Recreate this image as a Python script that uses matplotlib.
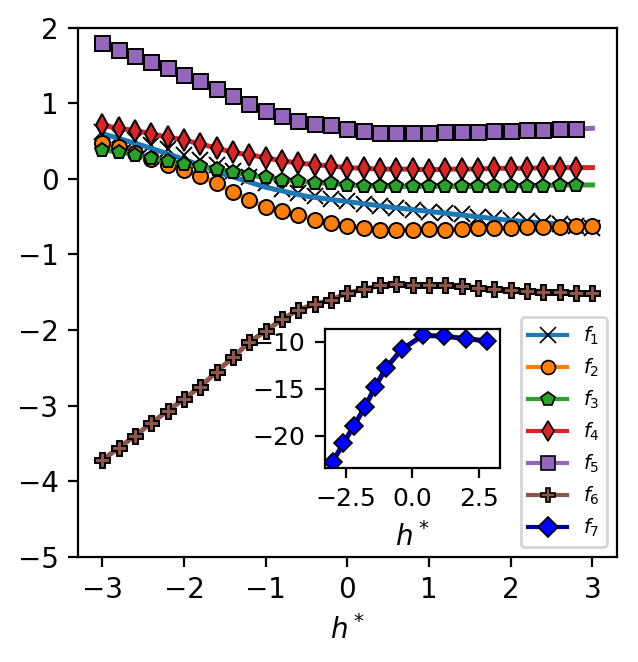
import numpy as np
import matplotlib
matplotlib.use('Agg')
import matplotlib.pyplot as plt
from matplotlib.lines import Line2D

plt.rcParams['font.size'] = 10

# sample points h* = -3 ... 3 (step 0.2)
h = np.round(np.arange(-3.0, 3.01, 0.2), 1)

f1 = [0.62, 0.57, 0.52, 0.45, 0.39, 0.32, 0.25, 0.18, 0.10, 0.02, -0.06,
      -0.13, -0.19, -0.23, -0.26, -0.29, -0.33, -0.36, -0.38, -0.41, -0.44,
      -0.45, -0.47, -0.50, -0.52, -0.54, -0.56, -0.58, -0.60, -0.62, -0.65]
f2 = [0.47, 0.42, 0.34, 0.26, 0.19, 0.12, 0.04, -0.06, -0.17, -0.28, -0.37,
      -0.43, -0.48, -0.54, -0.58, -0.62, -0.65, -0.67, -0.67, -0.67, -0.66,
      -0.67, -0.66, -0.65, -0.65, -0.65, -0.64, -0.64, -0.63, -0.62, -0.62]
f3 = [0.38, 0.36, 0.32, 0.28, 0.24, 0.20, 0.17, 0.13, 0.09, 0.05, 0.02,
      -0.01, -0.03, -0.05, -0.06, -0.08, -0.09, -0.10, -0.10, -0.10, -0.10,
      -0.10, -0.10, -0.10, -0.10, -0.09, -0.09, -0.09, -0.08, -0.08, -0.08]
f4 = [0.71, 0.67, 0.64, 0.60, 0.55, 0.52, 0.46, 0.41, 0.35, 0.32, 0.28,
      0.24, 0.21, 0.19, 0.17, 0.15, 0.14, 0.13, 0.13, 0.13, 0.12,
      0.13, 0.13, 0.13, 0.14, 0.14, 0.14, 0.15, 0.15, 0.15, 0.15]
f5 = [1.80, 1.70, 1.63, 1.55, 1.47, 1.37, 1.29, 1.19, 1.10, 0.99, 0.90,
      0.83, 0.77, 0.73, 0.71, 0.66, 0.64, 0.61, 0.61, 0.61, 0.61,
      0.62, 0.62, 0.62, 0.64, 0.64, 0.65, 0.65, 0.66, 0.66, 0.67]
f6 = [-3.72, -3.56, -3.40, -3.23, -3.07, -2.91, -2.75, -2.55, -2.36, -2.16, -2.01,
      -1.86, -1.73, -1.66, -1.60, -1.51, -1.46, -1.41, -1.39, -1.40, -1.40,
      -1.41, -1.42, -1.44, -1.46, -1.47, -1.48, -1.49, -1.50, -1.51, -1.51]
# number of sampled points shown with markers (f3-f5 stop at 2.8)
n_pts = [31, 31, 30, 30, 30, 31]

# smooth curve of f1 (differs from its samples)
h_f1_line = [-3.0, -2.5, -2.0, -1.5, -1.0, -0.5, 0.0, 0.5, 1.0, 1.5, 2.0, 2.5, 3.0]
f1_line = [0.60, 0.44, 0.26, 0.06, -0.11, -0.23, -0.30, -0.37, -0.43, -0.49, -0.55, -0.59, -0.62]

# inset: f7
h_f7 = [-3.0, -2.6, -2.2, -1.8, -1.4, -1.0, -0.4, 0.4, 1.2, 2.0, 2.8]
f7 = [-22.8, -20.85, -18.95, -17.0, -14.8, -12.8, -10.8, -9.3, -9.4, -9.65, -9.9]

labels = ['$f_1$', '$f_2$', '$f_3$', '$f_4$', '$f_5$', '$f_6$', '$f_7$']
colors = ['tab:blue', 'tab:orange', 'tab:green', 'tab:red', 'tab:purple', 'tab:brown']
markers = ['x', 'o', 'p', 'd', 's', 'P']

fig = plt.figure(figsize=(3.19, 3.31), dpi=200)
ax = fig.add_axes([0.122, 0.159, 0.845, 0.799])

series = [f1, f2, f3, f4, f5, f6]
handles = []
for i, (y, c, m, n) in enumerate(zip(series, colors, markers, n_pts)):
    if i == 0:
        ax.plot(h, y, ls='none', marker=m, color='k', ms=5.5, mew=0.7, zorder=2)
        ax.plot(h_f1_line, f1_line, color=c, lw=1.8, zorder=3)
    else:
        ax.plot(h, y, color=c, lw=1.8, zorder=2 + i)
        ax.plot(h[:n], y[:n], ls='none', marker=m, mfc=c, mec='k', ms=5.4, mew=0.7, zorder=2 + i)
    if m == 'x':
        handles.append(Line2D([], [], color=c, lw=1.5, marker=m, mec='k', ms=5.5, mew=0.6))
    else:
        handles.append(Line2D([], [], color=c, lw=1.5, marker=m, mfc=c, mec='k', ms=5, mew=0.6))
handles.append(Line2D([], [], color='darkblue', lw=1.5, marker='D', mfc='blue', mec='k', ms=5, mew=0.6))

ax.set_ylim(-5, 2)
ax.set_xticks([-3, -2, -1, 0, 1, 2, 3])
ax.set_xlabel('$h^*$')
ax.legend(handles, labels, loc='lower right', fontsize=7)

# inset
axin = fig.add_axes([0.509, 0.293, 0.275, 0.210])
axin.plot(h_f7, f7, color='darkblue', lw=1.8, marker='D', mfc='blue', mec='k', ms=4.8, mew=0.6)
axin.set_xlim(-3.3, 3.3)
axin.set_yticks([-20, -15, -10])
axin.tick_params(labelsize=9)
axin.set_xlabel('$h^*$')

fig.savefig('out.png', dpi=200)
